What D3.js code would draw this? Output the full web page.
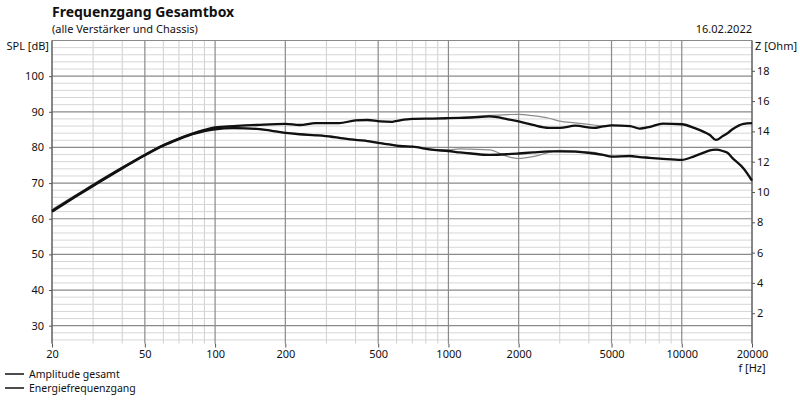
<!DOCTYPE html>
<html><head><meta charset="utf-8">
<script src="https://cdn.jsdelivr.net/npm/d3@7"></script>
<style>
body{margin:0;background:#fff;}
text{font-family:"Noto Sans",sans-serif;fill:#111;}
</style></head>
<body><svg id="c" width="800" height="401"></svg>
<script>
const title = "Frequenzgang Gesamtbox";
const subtitle = "(alle Verstärker und Chassis)";
const dateLabel = "16.02.2022";
const seriesNames = ["Amplitude gesamt", "Energiefrequenzgang"];

const freqTicks = [20, 50, 100, 200, 500, 1000, 2000, 5000, 10000, 20000];
const splTicks = [30, 40, 50, 60, 70, 80, 90, 100];
const zTicks = [2, 4, 6, 8, 10, 12, 14, 16, 18];

const freq = [20, 25, 30, 40, 50, 60, 70, 80, 90, 100, 120, 150, 200, 230, 270, 315, 340, 400, 450, 510, 575, 620, 700, 860, 1000, 1120, 1250, 1500, 1800, 2000, 2300, 2700, 3000, 3500, 4200, 4600, 5000, 6000, 6600, 7300, 8300, 10000, 11300, 12500, 13200, 14000, 15000, 15700, 16500, 18400, 20000];

const ampGesamt = [62.2, 66.2, 69.4, 74.3, 77.9, 80.6, 82.5, 83.9, 84.9, 85.6, 86.0, 86.3, 86.6, 86.3, 86.8, 86.8, 86.8, 87.6, 87.7, 87.3, 87.2, 87.6, 88.0, 88.1, 88.2, 88.3, 88.4, 88.7, 87.9, 87.3, 86.3, 85.5, 85.5, 86.1, 85.5, 85.9, 86.2, 86.0, 85.3, 85.8, 86.7, 86.5, 85.5, 84.3, 83.5, 82.1, 83.2, 84.0, 85.1, 86.6, 86.8];
const ampGesamtGrau = [62.6, 66.5, 69.7, 74.5, 78.1, 80.8, 82.6, 84.0, 84.9, 85.6, 86.0, 86.3, 86.6, 86.3, 86.8, 86.8, 86.8, 87.6, 87.7, 87.3, 87.2, 87.6, 88.0, 88.1, 88.2, 88.3, 88.5, 89.0, 89.2, 89.3, 88.9, 88.2, 87.4, 86.9, 86.3, 86.0, 86.2, 86.0, 85.3, 85.8, 86.7, 86.5, 85.5, 84.3, 83.5, 82.1, 83.2, 84.0, 85.1, 86.6, 86.8];

const energie = [62.0, 66.0, 69.2, 74.1, 77.8, 80.5, 82.3, 83.7, 84.6, 85.1, 85.4, 85.2, 84.1, 83.7, 83.4, 83.0, 82.7, 82.1, 81.8, 81.2, 80.7, 80.4, 80.2, 79.3, 79.0, 78.6, 78.3, 77.9, 78.1, 78.3, 78.6, 78.9, 78.9, 78.8, 78.3, 77.9, 77.4, 77.6, 77.3, 77.1, 76.8, 76.5, 77.5, 78.6, 79.2, 79.4, 79.0, 78.5, 77.0, 74.1, 70.7];
const energieGrau = [62.4, 66.3, 69.5, 74.3, 78.0, 80.7, 82.4, 83.8, 84.7, 85.2, 85.5, 85.3, 84.2, 83.8, 83.5, 83.1, 82.8, 82.2, 81.9, 81.3, 80.8, 80.5, 80.3, 79.5, 79.3, 79.6, 79.5, 79.3, 77.4, 76.9, 77.4, 78.6, 79.2, 79.0, 78.6, 78.0, 77.5, 77.6, 77.3, 77.1, 76.8, 76.5, 77.5, 78.6, 79.2, 79.4, 79.0, 78.5, 77.0, 74.1, 70.7];

const svg = d3.select("#c");
const L = 52, R = 752, T = 40.5, B = 343.5;

const x = d3.scaleLog().domain([20, 20000]).range([L, R]);
const y = d3.scaleLinear().domain([25, 110]).range([B, T]);
const yz = d3.scaleLinear().domain([0, 20]).range([B, T]);

// minor vertical grid
const minorF = [];
[10, 100, 1000, 10000].forEach(d => { for (let k = 1; k < 10; k++) { const f = d * k; if (f >= 20 && f <= 20000 && !freqTicks.includes(f)) minorF.push(f); } });
const g = svg.append("g");
g.selectAll(".vmin").data(minorF).join("line")
  .attr("x1", d => x(d)).attr("x2", d => x(d)).attr("y1", T).attr("y2", B)
  .attr("stroke", "#cfcfcf").attr("stroke-width", 1);
// minor horizontal grid every 2 dB
const minorS = d3.range(26, 110, 2).filter(v => v % 10 !== 0);
g.selectAll(".hmin").data(minorS).join("line")
  .attr("x1", L).attr("x2", R).attr("y1", d => y(d)).attr("y2", d => y(d))
  .attr("stroke", "#d6d6d6").attr("stroke-width", 1);
// major horizontal grid
g.selectAll(".hmaj").data(splTicks.concat([110])).join("line")
  .attr("x1", L).attr("x2", R).attr("y1", d => y(d)).attr("y2", d => y(d))
  .attr("stroke", "#8a8a8a").attr("stroke-width", 1.2);
// major vertical grid
g.selectAll(".vmaj").data(freqTicks).join("line")
  .attr("x1", d => x(d)).attr("x2", d => x(d)).attr("y1", T).attr("y2", B)
  .attr("stroke", "#8a8a8a").attr("stroke-width", 1.2);

// axes
const fmt = d => String(d);
const xAxis = d3.axisBottom(x).tickValues(freqTicks).tickFormat(fmt).tickSize(4).tickPadding(3);
const ax = svg.append("g").attr("transform", `translate(0,${B})`).call(xAxis);
ax.select(".domain").remove();
const yAxis = d3.axisLeft(y).tickValues(splTicks).tickFormat(fmt).tickSize(3).tickPadding(5);
const ay = svg.append("g").attr("transform", `translate(${L},0)`).call(yAxis);
ay.select(".domain").attr("d", `M0,${T}V${B}`);
const zAxis = d3.axisRight(yz).tickValues(zTicks).tickFormat(fmt).tickSize(3).tickPadding(2);
const az = svg.append("g").attr("transform", `translate(${R},0)`).call(zAxis);
az.select(".domain").attr("d", `M0,${T}V${B}`);
svg.selectAll(".tick text").style("font-family", '"Noto Sans",sans-serif').style("font-size", "11px").attr("fill", "#111");
svg.selectAll(".tick line").attr("stroke", "#555");
svg.selectAll(".domain").attr("stroke", "#555");

// curves
const line = d3.line().x((d, i) => x(freq[i])).y(d => y(d)).curve(d3.curveMonotoneX);
svg.append("path").attr("d", line(ampGesamtGrau)).attr("fill", "none").attr("stroke", "#8c8c8c").attr("stroke-width", 1.2);
svg.append("path").attr("d", line(energieGrau)).attr("fill", "none").attr("stroke", "#8c8c8c").attr("stroke-width", 1.2);
svg.append("path").attr("d", line(ampGesamt)).attr("fill", "none").attr("stroke", "#111").attr("stroke-width", 2.3);
svg.append("path").attr("d", line(energie)).attr("fill", "none").attr("stroke", "#111").attr("stroke-width", 2.3);

// texts
svg.append("text").attr("x", L).attr("y", 17).text(title).style("font-weight", "bold").style("font-size", "14px");
svg.append("text").attr("x", L).attr("y", 33).text(subtitle).style("font-size", "11px");
svg.append("text").attr("x", R).attr("y", 33).attr("text-anchor", "end").text(dateLabel).style("font-size", "11px");
svg.append("text").attr("x", 49).attr("y", 50).attr("text-anchor", "end").text("SPL [dB]").style("font-size", "11px");
svg.append("text").attr("x", 755).attr("y", 50).text("Z [Ohm]").style("font-size", "11px");
svg.append("text").attr("x", R).attr("y", 372).attr("text-anchor", "middle").text("f [Hz]").style("font-size", "11px");

// legend
const lg = svg.append("g");
seriesNames.forEach((n, i) => {
  const yy = 374 + i * 14;
  lg.append("line").attr("x1", 5).attr("x2", 24).attr("y1", yy).attr("y2", yy).attr("stroke", "#111").attr("stroke-width", 1.5);
  lg.append("text").attr("x", 29).attr("y", yy + 4).text(n).style("font-size", "10.5px");
});
</script></body></html>
